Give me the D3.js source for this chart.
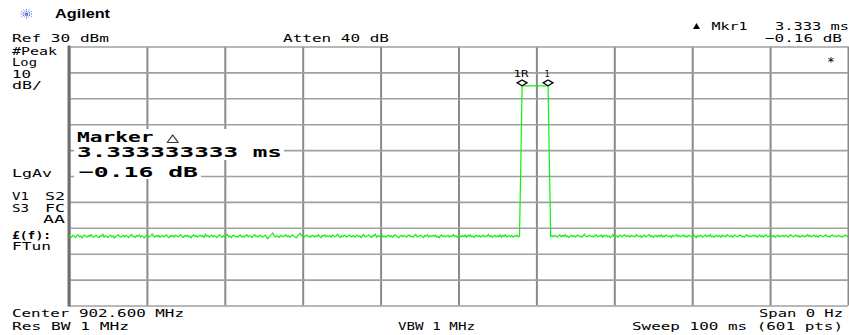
<!DOCTYPE html>
<html><head><meta charset="utf-8">
<script src="https://cdn.jsdelivr.net/npm/d3@7"></script>
<style>
html,body{margin:0;padding:0;background:#fff;}
svg{display:block;}
text{font-family:"DejaVu Sans Mono",monospace;fill:#000;}
</style></head>
<body>
<svg id="c" width="849" height="335"></svg>
<script>
// ---- data ----
const sweepMs = [0, 100];          // time axis (zero span), ms
const refLevel = [-70, 30];        // dBm, 10 dB/div
const nPoints = 601;
const timeTicks = [0,10,20,30,40,50,60,70,80,90,100];
const levelTicks = [30,20,10,0,-10,-20,-30,-40,-50,-60,-70];

const noiseBefore = [
-43.4,-43.1,-43.6,-42.9,-43.3,-43.8,-43.0,-42.7,-43.5,-43.2,-43.9,-43.1,-42.8,-43.4,-43.6,-43.0,-43.3,-42.6,-43.5,-43.7,
-43.2,-42.9,-43.4,-43.8,-43.1,-43.3,-42.5,-43.6,-43.0,-43.4,-43.7,-43.2,-42.8,-43.5,-43.1,-43.9,-43.3,-43.0,-42.7,-43.4,
-43.6,-43.2,-43.0,-43.5,-42.9,-43.3,-43.8,-43.1,-42.6,-43.4,-43.2,-43.7,-43.0,-43.3,-42.8,-43.6,-43.1,-43.4,-43.9,-43.2,
-42.8,-43.3,-43.5,-43.0,-42.4,-43.2,-43.6,-43.1,-43.4,-42.9,-43.7,-43.3,-43.0,-43.5,-43.2,-42.7,-43.4,-43.8,-43.1,-43.3,
-43.0,-43.6,-42.9,-43.2,-43.5,-43.1,-42.6,-43.4,-43.7,-43.0,-43.3,-42.8,-43.5,-43.2,-43.9,-43.1,-42.7,-43.4,-43.0,-43.6,
-43.2,-42.9,-43.4,-43.1,-43.7,-42.5,-43.3,-43.0,-43.6,-43.2,-42.8,-43.5,-43.1,-43.4,-43.8,-43.0,-42.7,-43.3,-43.6,-43.1,
-43.4,-43.0,-42.6,-43.5,-43.2,-43.8,-43.1,-42.9,-43.4,-43.3,-43.7,-43.0,-42.8,-43.5,-43.2,-43.6,-43.0,-42.7,-43.4,-43.1,
-43.3,-43.8,-43.0,-42.6,-43.4,-43.2,-43.5,-42.9,-43.1,-43.7,-43.3,-42.8,-43.4,-44.2,-43.6,-43.2,-42.5,-42.0,-43.1,-43.5,
-43.0,-43.4,-43.7,-42.9,-43.2,-43.5,-43.1,-42.7,-43.4,-43.0,-43.6,-43.3,-42.8,-43.1,-43.5,-43.9,-43.2,-42.6,-42.1,-43.0,
-43.3,-43.6,-43.1,-42.8,-43.4,-43.2,-43.7,-43.0,-42.9,-43.5,-43.1,-43.4,-42.6,-43.3,-43.8,-43.0,-43.2,-42.7,-43.5,-43.1,
-43.4,-43.0,-43.6,-42.8,-43.2,-43.5,-43.1,-42.4,-43.3,-43.7,-43.0,-43.4,-42.9,-43.2,-43.6,-43.1,-42.7,-43.5,-43.3,-43.0,
-43.6,-43.2,-42.9,-43.4,-43.1,-43.8,-43.0,-42.6,-43.5,-43.3,-43.1,-42.8,-43.4,-43.7,-43.0,-43.2,-42.5,-43.6,-43.1,-43.4,
-43.0,-42.8,-43.5,-43.2,-43.7,-43.1,-42.9,-43.4,-43.0,-43.6,-43.3,-42.7,-43.1,-43.5,-43.8,-43.2,-42.9,-43.4,-43.0,-43.3,
-43.6,-43.1,-42.8,-43.4,-43.2,-43.7,-43.0,-42.6,-43.5,-43.3,-43.1,-42.9,-43.4,-43.8,-43.0,-43.2,-42.7,-43.5,-43.1,-43.4,
-43.0,-43.3,-42.8,-43.6,-43.2,-43.9,-43.1,-42.7,-43.4,-43.0,-43.5,-43.2,-42.9,-43.6,-43.1,-43.3,-42.6,-43.4,-43.0,-43.7,
-43.2,-42.9,-43.5,-43.1,-43.4,-42.8,-43.6,-43.0,-43.3,-42.7,-43.5,-43.2,-43.8,-43.1,-42.9,-43.4,-43.0,-43.6,-43.2,-42.8,
-43.5,-43.1,-43.3,-42.6,-43.4,-43.0,-43.7,-43.2,-42.9,-43.5,-43.1,-43.4,-42.8,-43.6,-43.0,-43.3,-42.7,-43.5,-43.2,-43.0,
-43.4,-42.9,-43.6,-43.1,-43.3,-42.8,-43.5,-43.2
];
const pulse = [
-14.6,
14.8,14.8,14.8,14.8,14.8,14.8,14.8,14.8,14.8,14.8,14.8,14.8,14.8,14.8,14.8,14.8,14.8,14.8,14.8,14.8,14.8,
-14.6
];
const noiseAfter = [
-43.3,-43.0,-43.5,-42.9,-43.2,-43.6,-43.1,-42.7,-43.4,-43.0,-43.3,-42.6,-43.5,-43.1,-43.8,-43.2,-42.9,-43.4,-43.0,-43.6,
-43.1,-42.8,-43.4,-43.2,-43.7,-43.0,-42.5,-43.3,-43.5,-43.1,-42.9,-43.4,-43.2,-43.6,-43.0,-42.7,-43.5,-43.1,-43.3,-42.8,
-43.6,-43.0,-43.2,-42.9,-43.5,-43.1,-43.8,-43.3,-42.6,-43.4,-43.0,-43.2,-43.7,-42.8,-43.1,-43.5,-43.0,-42.7,-43.4,-43.2,
-43.0,-43.6,-42.9,-43.3,-43.1,-43.5,-42.7,-43.2,-43.4,-43.0,-43.8,-43.1,-42.8,-43.5,-43.2,-43.0,-42.6,-43.4,-43.1,-43.7,
-43.2,-42.9,-43.5,-43.0,-43.3,-42.7,-43.6,-43.1,-43.4,-42.8,-43.2,-43.5,-43.0,-43.7,-42.9,-43.3,-43.1,-42.6,-43.4,-43.0,
-43.5,-43.2,-42.8,-43.4,-43.1,-43.6,-43.0,-42.9,-43.3,-43.5,-42.7,-43.2,-43.8,-43.0,-43.4,-42.9,-43.1,-43.6,-43.2,-42.8,
-43.4,-43.0,-43.3,-42.6,-43.5,-43.1,-43.7,-43.2,-42.9,-43.4,-43.0,-43.6,-42.8,-43.3,-43.1,-43.5,-42.7,-43.2,-43.4,-43.0,
-43.6,-43.1,-42.9,-43.3,-43.5,-43.0,-42.8,-43.4,-43.2,-43.7,-43.0,-42.6,-43.4,-43.1,-43.5,-43.2,-42.9,-43.3,-43.0,-43.6,
-43.2,-42.8,-43.4,-43.1,-43.6,-43.0,-42.7,-43.5,-43.3,-43.1,-42.9,-43.4,-43.0,-43.7,-43.2,-42.8,-43.5,-43.1,-43.3,-43.0,
-43.4,-42.9,-43.2,-43.6,-43.0,-42.7,-43.3,-43.5,-43.1,-42.8,-43.4,-43.0,-43.6,-43.2,-42.9,-43.5,-43.1,-43.3,-42.6,-43.4,
-43.0,-43.5,-43.2,-42.8,-43.4,-43.1,-43.7,-43.0,-42.9,-43.3,-43.5,-43.1,-42.7,-43.4,-43.2,-43.6,-43.0,-42.8,-43.3,-43.1,
-43.5,-43.0,-42.9,-43.4,-43.2,-43.6,-43.1,-42.8,-43.3,-43.2
];
const trace = noiseBefore.concat(pulse, noiseAfter);

const markerRefMs = 58.1667;   // marker 1R
const markerMs = 61.5;         // marker 1 (delta 3.333 ms)
const markerLevel = 14.8;

// ---- layout ----
const L = 69, R = 848, T = 46.5, B = 305.5;
const svg = d3.select("#c");
const x = d3.scaleLinear().domain(sweepMs).range([L, R]);
const y = d3.scaleLinear().domain(refLevel).range([B, T]);

// grid via axes
svg.append("g").attr("transform", `translate(0,${B})`)
  .call(d3.axisBottom(x).tickValues(timeTicks).tickSize(-(B - T)).tickFormat(""))
  .call(g => g.select(".domain").remove())
  .call(g => g.selectAll("line").attr("stroke", "#8a8a8a").attr("stroke-width", 2));
svg.append("g").attr("transform", `translate(${L},0)`)
  .call(d3.axisLeft(y).tickValues(levelTicks).tickSize(-(R - L)).tickFormat(""))
  .call(g => g.select(".domain").remove())
  .call(g => g.selectAll("line").attr("stroke", "#a0a0a0").attr("stroke-width", 1.6));
// frame left edge thicker
svg.append("line").attr("x1", L).attr("x2", L).attr("y1", T - 1).attr("y2", B + 1)
  .attr("stroke", "#707070").attr("stroke-width", 3);

// trace
const line = d3.line()
  .x((d, i) => x(i * (sweepMs[1] - sweepMs[0]) / (nPoints - 1)))
  .y(d => y(d));
svg.append("path").datum(trace).attr("d", line)
  .attr("fill", "none").attr("stroke", "#10f010").attr("stroke-width", 1.2);

// text helper (x = left ink, w = width)
function t(xp, yp, s, w, size, extra) {
  const el = svg.append("text").attr("x", xp).attr("y", yp).text(s)
    .attr("font-size", size || 11)
    .attr("textLength", w).attr("lengthAdjust", "spacingAndGlyphs");
  if (extra) extra(el);
  return el;
}

// logo
const lg = svg.append("g").attr("transform", "translate(26.5,14)");
[0, 30, 60, 90, 120, 150].forEach(a => {
  const r = a * Math.PI / 180;
  lg.append("line").attr("x1", -6 * Math.cos(r)).attr("y1", -5 * Math.sin(r))
    .attr("x2", 6 * Math.cos(r)).attr("y2", 5 * Math.sin(r))
    .attr("stroke", "#5470e0").attr("stroke-width", 1).attr("stroke-dasharray", "1.2,0.9");
});
svg.append("text").attr("x", 55).attr("y", 18).text("Agilent")
  .style("font-family", "Liberation Sans, Arial, sans-serif")
  .attr("font-weight", "bold").attr("font-size", 12).attr("textLength", 55).attr("lengthAdjust", "spacingAndGlyphs");

// header
t(12, 42, "Ref 30 dBm", 97);
t(283, 42, "Atten 40 dB", 106);
svg.append("path").attr("d", "M693,29 L700,29 L696.5,23 Z").attr("fill", "#000");
t(711.5, 30, "Mkr1", 36);
t(775, 30, "3.333 ms", 74);
t(765, 42, "\u22120.16 dB", 77);
svg.append("text").attr("x", 831).attr("y", 66).attr("text-anchor", "middle").attr("font-size", 13).text("*");

// left annotations
const ls = 10;
t(12, 54.5, "#Peak", 45, ls);
t(12, 65.5, "Log", 25, ls);
t(12, 77.5, "10", 19, ls);
t(12, 89, "dB/", 30, ls);
t(12, 177, "LgAv", 40, ls);
t(12, 200, "V1", 17, ls); t(45, 200, "S2", 20, ls);
t(12, 211.5, "S3", 17, ls); t(45, 211.5, "FC", 20, ls);
t(43, 223, "AA", 22, ls);
t(12, 238.5, "\u00a3(f):", 39, ls, e => e.attr("font-weight", "bold"));
t(12, 250, "FTun", 39, ls);

// footer
t(12, 317, "Center 902.600 MHz", 172);
t(12, 329.5, "Res BW 1 MHz", 117);
t(398, 329.5, "VBW 1 MHz", 77);
t(759, 317, "Span 0 Hz", 84);
t(632, 329.5, "Sweep 100 ms (601 pts)", 211);

// marker readout box with white background
svg.append("rect").attr("x", 74).attr("y", 129).attr("width", 210).attr("height", 31).attr("fill", "#fff");
svg.append("rect").attr("x", 74).attr("y", 160).attr("width", 127).attr("height", 19).attr("fill", "#fff");
const mb = e => e.attr("font-weight", "bold");
t(77, 142, "Marker \u25b3", 102, 14.5, mb);
t(77, 157, "3.333333333 ms", 205, 14.5, mb);
t(79, 177, "\u22120.16 dB", 119, 14.5, mb);

// markers
const mk = [{ t: markerRefMs, lab: "1R", w: 15 }, { t: markerMs, lab: "1", w: 5 }];
mk.forEach(m => {
  const cx = x(m.t), cy = y(markerLevel) - 3;
  svg.append("path").attr("d", `M${cx - 5},${cy} L${cx},${cy - 3} L${cx + 5},${cy} L${cx},${cy + 3} Z`)
    .attr("fill", "#fff").attr("stroke", "#000").attr("stroke-width", 1.2);
  svg.append("text").attr("x", cx - 1).attr("y", cy - 6).attr("text-anchor", "middle")
    .attr("font-size", 9).attr("textLength", m.w).attr("lengthAdjust", "spacingAndGlyphs").text(m.lab);
});
</script>
</body></html>
